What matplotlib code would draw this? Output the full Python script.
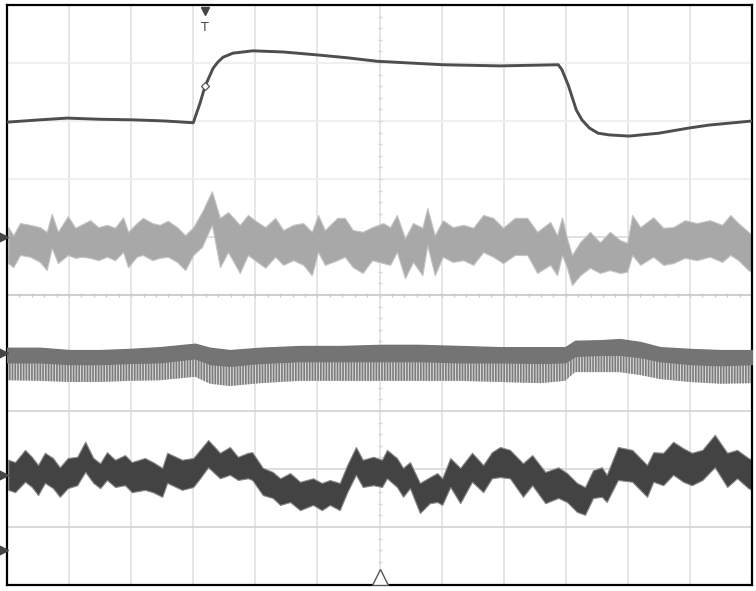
#%%
# Oscilloscope capture: 4 channels, 12 x 10 divisions

import numpy as np
import matplotlib
matplotlib.use("Agg")
import matplotlib.pyplot as plt

#%% Data (x in divisions 0..12, y in divisions -5..5)

# channel 1 : step response (thin line)
ch1_x = [0.00, 0.53, 0.97, 1.50, 2.03, 2.55, 3.00, 3.11, 3.19, 3.32, 3.40, 3.48, 3.64,
         3.96, 4.45, 4.99, 5.48, 5.96, 6.49, 7.02, 7.94, 8.88, 8.94, 9.04, 9.17, 9.26,
         9.38, 9.52, 9.70, 10.02, 10.50, 10.99, 11.31, 12.00]
ch1_y = [2.98, 3.02, 3.05, 3.03, 3.02, 3.00, 2.97, 3.31, 3.60, 3.91, 4.02, 4.10, 4.17,
         4.21, 4.19, 4.14, 4.09, 4.03, 4.00, 3.97, 3.95, 3.97, 3.88, 3.62, 3.19, 3.02,
         2.88, 2.79, 2.76, 2.74, 2.79, 2.88, 2.93, 3.00]

# channel 2 : noisy light trace, upper / lower envelope
ch2_x = [0.02, 0.10, 0.21, 0.37, 0.53, 0.64, 0.72, 0.82, 0.98, 1.10, 1.21, 1.34, 1.47,
         1.61, 1.74, 1.87, 1.95, 2.09, 2.19, 2.34, 2.46, 2.59, 2.74, 2.87, 3.00, 3.14,
         3.30, 3.43, 3.56, 3.75, 3.88, 4.03, 4.16, 4.32, 4.45, 4.61, 4.77, 4.91, 5.01,
         5.12, 5.32, 5.44, 5.57, 5.73, 5.88, 6.06, 6.17, 6.28, 6.41, 6.54, 6.69, 6.77,
         6.89, 7.02, 7.18, 7.35, 7.51, 7.67, 7.83, 7.99, 8.18, 8.38, 8.54, 8.75, 8.86,
         8.94, 9.02, 9.10, 9.23, 9.39, 9.55, 9.71, 9.87, 9.99, 10.07, 10.20, 10.41,
         10.57, 10.73, 10.92, 11.11, 11.32, 11.52, 11.65, 11.78, 11.94, 12.00]
ch2_hi = [1.17, 1.03, 1.24, 1.21, 1.17, 1.09, 1.40, 1.09, 1.36, 1.16, 1.22, 1.29, 1.17,
          1.21, 1.16, 1.34, 1.09, 1.24, 1.33, 1.24, 1.21, 1.28, 1.17, 1.03, 1.17, 1.43,
          1.79, 1.33, 1.43, 1.21, 1.38, 1.26, 1.17, 1.33, 1.12, 1.21, 1.24, 1.09, 1.38,
          1.12, 1.33, 1.33, 1.12, 1.09, 1.17, 1.24, 1.17, 1.38, 0.98, 1.24, 1.16, 1.50,
          1.03, 1.29, 1.17, 1.21, 1.16, 1.38, 1.33, 1.16, 1.33, 1.33, 1.09, 1.26, 1.03,
          1.34, 0.98, 0.69, 0.91, 1.09, 0.91, 1.09, 0.95, 0.90, 1.38, 1.17, 1.34,
          1.16, 1.17, 1.29, 1.24, 1.29, 1.21, 1.38, 1.24, 1.09, 1.03]
ch2_lo = [0.55, 0.48, 0.69, 0.66, 0.57, 0.43, 0.81, 0.55, 0.69, 0.64, 0.66, 0.64, 0.60,
          0.66, 0.60, 0.74, 0.48, 0.66, 0.69, 0.60, 0.64, 0.66, 0.57, 0.43, 0.69, 0.83,
          1.21, 0.48, 0.74, 0.38, 0.69, 0.57, 0.47, 0.66, 0.52, 0.60, 0.52, 0.34, 0.74,
          0.52, 0.60, 0.66, 0.48, 0.38, 0.60, 0.55, 0.52, 0.74, 0.29, 0.57, 0.34, 0.86,
          0.34, 0.66, 0.57, 0.60, 0.52, 0.74, 0.66, 0.55, 0.69, 0.69, 0.38, 0.52, 0.34,
          0.69, 0.47, 0.17, 0.34, 0.47, 0.38, 0.43, 0.38, 0.40, 0.69, 0.52, 0.66,
          0.52, 0.55, 0.64, 0.60, 0.66, 0.57, 0.69, 0.60, 0.43, 0.40]

# channel 3 : switching ripple, top edge / end of dark band / bottom of comb
ch3_x = [0.00, 0.53, 1.01, 1.50, 1.98, 2.46, 3.03, 3.27, 3.59, 4.08, 4.72, 5.36, 6.01,
         6.65, 7.30, 7.94, 8.59, 8.99, 9.15, 9.55, 9.87, 10.20, 10.52, 11.00, 11.49, 12.00]
ch3_hi = [-0.91, -0.91, -0.95, -0.95, -0.93, -0.90, -0.84, -0.91, -0.95, -0.91, -0.88,
          -0.88, -0.86, -0.86, -0.88, -0.90, -0.90, -0.90, -0.79, -0.78, -0.76, -0.81,
          -0.90, -0.93, -0.95, -0.95]
ch3_mid = [-1.16, -1.16, -1.19, -1.19, -1.17, -1.16, -1.09, -1.19, -1.22, -1.17, -1.14,
           -1.14, -1.14, -1.14, -1.16, -1.16, -1.17, -1.16, -1.05, -1.03, -1.03, -1.07,
           -1.14, -1.19, -1.21, -1.19]
ch3_lo = [-1.47, -1.48, -1.50, -1.50, -1.48, -1.47, -1.41, -1.53, -1.57, -1.52, -1.48,
          -1.48, -1.48, -1.48, -1.48, -1.50, -1.52, -1.48, -1.33, -1.33, -1.33, -1.38,
          -1.45, -1.50, -1.53, -1.52]

# channel 4 : dark noisy trace, upper / lower envelope
ch4_x = [0.02, 0.13, 0.29, 0.40, 0.50, 0.61, 0.74, 0.85, 0.98, 1.13, 1.26, 1.39, 1.50,
         1.61, 1.74, 1.90, 2.01, 2.22, 2.35, 2.50, 2.58, 2.82, 3.00, 3.11, 3.24, 3.43,
         3.59, 3.72, 3.88, 3.95, 4.12, 4.28, 4.40, 4.56, 4.72, 4.93, 5.07, 5.20, 5.36,
         5.48, 5.62, 5.73, 5.90, 6.04, 6.12, 6.28, 6.38, 6.49, 6.65, 6.81, 6.93, 7.01,
         7.14, 7.30, 7.49, 7.67, 7.81, 7.94, 8.10, 8.31, 8.46, 8.67, 8.88, 9.02, 9.18,
         9.31, 9.44, 9.58, 9.66, 9.84, 10.07, 10.31, 10.41, 10.57, 10.73, 10.89, 11.03,
         11.20, 11.40, 11.60, 11.76, 11.94, 12.00]
ch4_hi = [-2.84, -2.88, -2.67, -2.79, -2.93, -2.72, -2.81, -2.97, -2.81, -2.79, -2.53,
          -2.81, -2.90, -2.71, -2.84, -2.76, -2.88, -2.81, -2.88, -2.98, -2.72, -2.84,
          -2.81, -2.67, -2.50, -2.72, -2.62, -2.79, -2.72, -2.71, -2.98, -3.05, -3.16,
          -3.07, -3.22, -3.16, -3.24, -3.19, -3.24, -2.93, -2.62, -2.84, -2.79, -2.84,
          -2.67, -2.81, -2.98, -2.88, -3.24, -3.14, -3.07, -3.16, -2.81, -2.98, -2.72,
          -2.93, -2.71, -2.62, -2.67, -2.90, -2.76, -3.05, -2.97, -3.07, -3.24, -3.31,
          -3.02, -2.97, -3.10, -2.62, -2.67, -2.93, -2.71, -2.72, -2.53, -2.64, -2.72,
          -2.67, -2.41, -2.72, -2.67, -2.81, -2.84]
ch4_lo = [-3.36, -3.40, -3.22, -3.31, -3.45, -3.24, -3.33, -3.48, -3.33, -3.28, -3.05,
          -3.24, -3.33, -3.19, -3.31, -3.28, -3.40, -3.36, -3.40, -3.48, -3.24, -3.36,
          -3.31, -3.16, -2.97, -3.16, -3.10, -3.19, -3.16, -3.19, -3.45, -3.50, -3.62,
          -3.57, -3.71, -3.62, -3.71, -3.62, -3.71, -3.40, -3.10, -3.31, -3.28, -3.31,
          -3.16, -3.31, -3.48, -3.33, -3.76, -3.59, -3.57, -3.62, -3.31, -3.59, -3.22,
          -3.40, -3.16, -3.14, -3.16, -3.48, -3.28, -3.59, -3.50, -3.57, -3.74, -3.79,
          -3.50, -3.48, -3.57, -3.19, -3.22, -3.48, -3.22, -3.28, -3.10, -3.22, -3.28,
          -3.19, -2.97, -3.31, -3.16, -3.33, -3.36]

# channel ground markers on the left edge, trigger position
ch_offsets = [1.0, -1.0, -3.10, -4.40]
trig_x = 3.19
trig_level = 3.60

#%% Figure

plt.rcParams['hatch.linewidth'] = 1.2
fig = plt.figure(figsize=(7.56, 5.91), dpi=100)
ax = fig.add_axes([7 / 756, 6 / 591, 745 / 756, 580 / 591])
ax.set_xlim(0, 12)
ax.set_ylim(-5, 5)
ax.set_xticks([])
ax.set_yticks([])
for s in ax.spines.values():
    s.set_color("black")
    s.set_linewidth(1.6)

# graticule
for gx in range(1, 12):
    ax.axvline(gx, color="#e2e2e2", lw=1.2, zorder=0)
hcol = {4: "#eeeeee", 3: "#eeeeee", 2: "#ececec", 1: "#dadada", 0: "#c6c6c6",
        -1: "#dedede", -2: "#d2d2d2", -3: "#d8d8d8", -4: "#d2d2d2"}
for gy in range(-4, 5):
    ax.axhline(gy, color=hcol[gy], lw=1.2, zorder=0)
minor_x = np.arange(0.2, 12, 0.2)
minor_y = np.arange(-4.8, 5, 0.2)
ax.plot(minor_x, np.zeros_like(minor_x), ls="none", marker="|", ms=3, color="#cccccc", zorder=0)
ax.plot(np.full_like(minor_y, 6.0), minor_y, ls="none", marker="_", ms=3, color="#d4d4d4", zorder=0)

# channel 2
ax.fill_between(ch2_x, ch2_lo, ch2_hi, facecolor="#a8a8a8", edgecolor="#c4c4c4", lw=0.8, zorder=2)

# channel 3 : dark band + comb
ax.fill_between(ch3_x, ch3_lo, ch3_mid, facecolor="#d8d8d8", edgecolor="#7c7c7c",
                hatch="|" * 6, lw=0, zorder=2)
ax.fill_between(ch3_x, ch3_mid, ch3_hi, facecolor="#747474", edgecolor="#747474", lw=1.0, zorder=3)

# channel 4
ax.fill_between(ch4_x, ch4_lo, ch4_hi, facecolor="#434343", edgecolor="#8a8a8a", lw=0.8, zorder=2)

# channel 1
ax.plot(ch1_x, ch1_y, color="#4e4e4e", lw=2.1, zorder=4)
ax.plot([trig_x], [trig_level], marker="D", ms=4, mfc="white", mec="#555555", mew=0.9, zorder=5)

# markers
ax.plot([-0.06] * len(ch_offsets), ch_offsets, ls="none", marker=">", ms=7,
        color="#444444", clip_on=False, zorder=6)
ax.plot([trig_x], [4.89], marker="v", ms=6, color="#444444", clip_on=False, zorder=6)
ax.text(trig_x, 4.62, "T", ha="center", va="center", fontsize=9, color="#444444")
ax.plot([6.0], [-4.86], marker="^", ms=12, mfc="white", mec="#555555", mew=1.0, zorder=6)

plt.savefig("out.png", dpi=100)
